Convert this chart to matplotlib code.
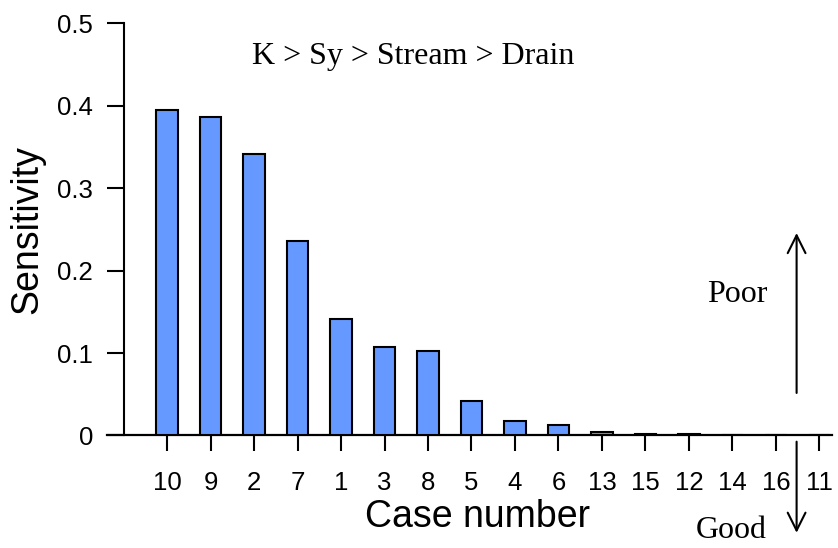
import numpy as np
import matplotlib
matplotlib.use("Agg")
import matplotlib.pyplot as plt

# sensitivity of each case, sorted from largest to smallest
cases = ['10', '9', '2', '7', '1', '3', '8', '5', '4', '6', '13', '15', '12', '14', '16', '11']
sensitivity = [0.3945, 0.386, 0.342, 0.236, 0.1413, 0.107, 0.103, 0.0414, 0.0181, 0.013,
               0.004, 0.002, 0.0015, 0.001, 0.001, 0.0005]
y_ticks = [0, 0.1, 0.2, 0.3, 0.4, 0.5]
y_ticklabels = ['0', '0.1', '0.2', '0.3', '0.4', '0.5']

sans = 'Liberation Sans'
serif = 'Liberation Serif'

fig = plt.figure(figsize=(8.38, 5.48), dpi=100)
ax = fig.add_axes([0.1277, 0.2053, 0.8652, 0.7522])

x = np.arange(len(cases))
ax.bar(x, sensitivity, width=0.5, color='#6699FF', edgecolor='black', linewidth=1.5, zorder=3)

ax.set_xlim(-1.38, 15.29)
ax.set_ylim(0, 0.5)

# axes: left spine pulled in, bottom line runs the full width
for s in ['top', 'right']:
    ax.spines[s].set_visible(False)
ax.spines['left'].set_position(('data', -0.989))
ax.spines['left'].set_linewidth(1.5)
ax.spines['bottom'].set_linewidth(1.6)
ax.spines['bottom'].set_zorder(2.5)

ax.set_xticks(x)
ax.set_xticklabels(cases, fontsize=18.5, family=sans)
ax.set_yticks(y_ticks)
ax.set_yticklabels(y_ticklabels, fontsize=18.5, family=sans)
ax.tick_params(axis='x', length=11.5, width=1.5, pad=14)
ax.tick_params(axis='y', length=12.2, width=1.5, pad=10)

ax.text(0.5115, -0.222, 'Case number', transform=ax.transAxes, ha='center',
        va='baseline', fontsize=27, family=sans)
ax.text(-0.0961, 0.4985, 'Sensitivity', transform=ax.transAxes, ha='center',
        va='baseline', rotation=90, rotation_mode='anchor', fontsize=27, family=sans)

ax.text(5.667, 0.4503, 'K > Sy > Stream > Drain', ha='center', va='baseline',
        fontsize=23, family=serif)
ax.text(13.115, 0.1616, 'Poor', ha='center', va='baseline', fontsize=23, family=serif)
ax.text(12.97, -0.1243, 'Good', ha='center', va='baseline', fontsize=23, family=serif,
        clip_on=False)

arrow = dict(arrowstyle='->', lw=1.5, mutation_scale=32, shrinkA=0, shrinkB=0, color='black')
ax.annotate('', xy=(14.475, 0.2456), xytext=(14.475, 0.0516), arrowprops=arrow,
            annotation_clip=False)
ax.annotate('', xy=(14.475, -0.118), xytext=(14.475, -0.0075), arrowprops=arrow,
            annotation_clip=False)

fig.savefig('out.png', dpi=100)
